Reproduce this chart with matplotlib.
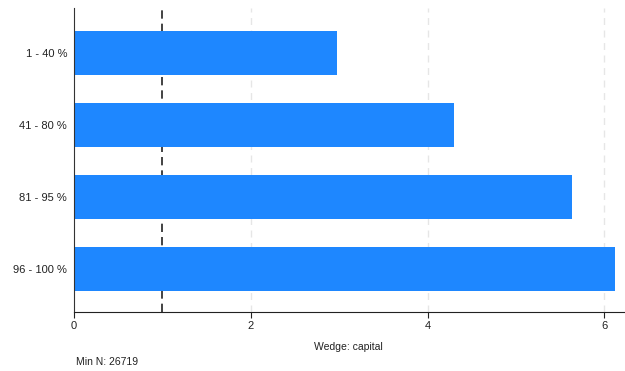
import matplotlib
matplotlib.use("Agg")
import matplotlib.pyplot as plt

plt.rcParams["font.family"] = ["Liberation Sans", "DejaVu Sans"]

categories = ["1 - 40 %", "41 - 80 %", "81 - 95 %", "96 - 100 %"]
values = [2.975, 4.30, 5.63, 6.12]
xticks = [0, 2, 4, 6]
min_n = 26719

fig = plt.figure(figsize=(6.25, 3.71), dpi=100)
ax = fig.add_axes([0.1184, 0.159, 0.8796, 0.819])

ypos = list(range(len(categories)))
ax.barh(ypos, values, height=0.61, color="#1e87ff", zorder=2)
ax.set_yticks(ypos)
ax.set_yticklabels(categories)
ax.set_ylim(3.59, -0.625)

ax.set_xlim(0, 6.22)
ax.set_xticks(xticks)
ax.set_xticklabels([str(t) for t in xticks])

for t in xticks[1:]:
    ax.axvline(t, color="#e6e6e6", lw=1, ls=(0, (5, 4)), zorder=1)
ax.axvline(1, color="#222222", lw=1.2, ls=(0, (5, 3)), zorder=1)

for s in ["top", "right"]:
    ax.spines[s].set_visible(False)
ax.spines["left"].set_color("#333333")
ax.spines["bottom"].set_color("#222222")
ax.tick_params(axis="y", length=0, labelsize=8, pad=5, labelcolor="#222222")
ax.tick_params(axis="x", length=4, labelsize=8, pad=2.5, labelcolor="#222222", color="#222222")

ax.set_xlabel("Wedge: capital", fontsize=7.5, color="#222222", labelpad=8)
fig.text(76 / 625, 1 - 362 / 371, f"Min N: {min_n}", fontsize=7.5, color="#222222",
         va="center", ha="left")

fig.savefig("out.png", dpi=100)
